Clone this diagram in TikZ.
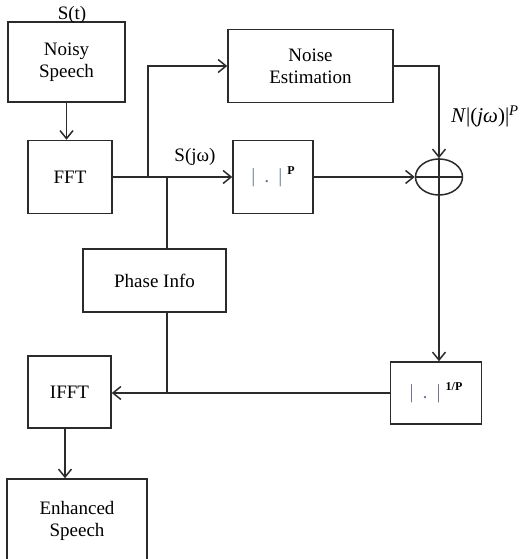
\documentclass[tikz,border=0pt]{standalone}
\usepackage{fontspec}
\setmainfont{Liberation Serif}
\usetikzlibrary{arrows.meta,shapes.geometric,calc}
\definecolor{linec}{HTML}{2B2B2B}
\definecolor{barc}{HTML}{6E7896}
\tikzset{
  blk/.style={draw=linec,line width=1.5pt,rectangle,inner sep=0pt,align=center,font=\fontsize{19}{22}\selectfont},
  arr/.style={draw=linec,line width=1.5pt,-{Straight Barb[length=8pt,width=13pt,line width=1.5pt]}},
  ln/.style={draw=linec,line width=1.5pt},
  lbl/.style={inner sep=0pt,font=\fontsize{19}{22}\selectfont}
}
\newcommand{\barsP}[1]{{\color{barc}\fontsize{20}{20}\selectfont|\hspace{9pt}.\hspace{9pt}|}\hspace{5pt}\raisebox{8pt}{\fontsize{12}{12}\selectfont\bfseries #1}}
\begin{document}
\begin{tikzpicture}[x=1pt,y=-1pt]
\useasboundingbox (0,0) rectangle (529,559);
\node[blk,minimum width=117pt,minimum height=80pt] (noisy) at (66.5,62) {Noisy\\Speech};
\node[blk,minimum width=84pt,minimum height=73pt] (fft) at (70,177) {FFT};
\node[blk,minimum width=165pt,minimum height=73pt] (noise) at (310.5,66) {Noise\\Estimation};
\node[blk,minimum width=80pt,minimum height=73pt] (powp) at (273,177) {\barsP{P}};
\node[draw=linec,line width=1.5pt,ellipse,minimum width=47pt,minimum height=36pt,inner sep=0pt] (circ) at (439,177) {};
\draw[ln] (circ.north) -- (circ.south);
\draw[ln] (circ.west) -- (circ.east);
\node[blk,minimum width=143pt,minimum height=63pt] (phase) at (154.5,280.5) {Phase Info};
\node[blk,minimum width=83pt,minimum height=72pt] (ifft) at (69.5,392) {IFFT};
\node[blk,minimum width=91pt,minimum height=62pt] (inv) at (436,393) {\barsP{1/P}};
\node[blk,minimum width=140pt,minimum height=84pt] (enh) at (77,521) {Enhanced\\Speech};
% labels
\node[lbl] (st) at (72,15) {S(t)};
\node[lbl] (sjw) at (195,157) {S(jω)};
\node[lbl,anchor=base west,font=\fontsize{21}{22}\selectfont] (nlab) at (451,123) {\textit{N}|(\textit{jω})|\textsuperscript{\textit{P}}};
% coordinates
\coordinate (b1) at (148,177);
\coordinate (b2) at (167,177);
\coordinate (b3) at (167,393);
% connectors
\draw[arr] (noisy.south) -- (noisy.south |- fft.north);
\draw[arr] (fft.east) -- (powp.west);
\draw[arr] (b1) |- (noise.west);
\draw[arr] (noise.east) -| (circ.north);
\draw[arr] (powp.east) -- (circ.west);
\draw[arr] (circ.south) -- (circ.south |- inv.north);
\draw[ln] (b2) -- (b2 |- phase.north);
\draw[ln] (b2 |- phase.south) -- (b3);
\draw[arr] (inv.west) -- (inv.west -| ifft.east);
\draw[arr] ([xshift=-4.5pt]ifft.south) -- ([xshift=-4.5pt]ifft.south |- enh.north);
\end{tikzpicture}
\end{document}
